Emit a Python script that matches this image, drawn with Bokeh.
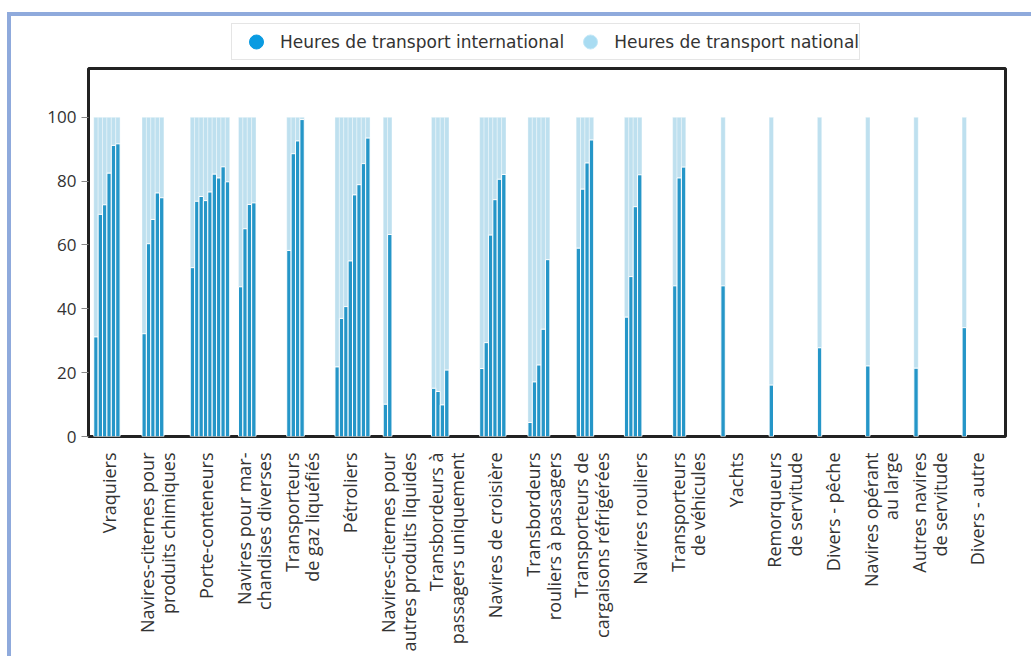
import math
from bokeh.plotting import figure
from bokeh.layouts import column
from bokeh.models import Range1d, FixedTicker, Legend, LegendItem, ColumnDataSource
from bokeh.embed import file_html
from bokeh.resources import INLINE

# ---- data -------------------------------------------------------------
categories = [
    "Vraquiers",
    "Navires-citernes pour\nproduits chimiques",
    "Porte-conteneurs",
    "Navires pour mar-\nchandises diverses",
    "Transporteurs\nde gaz liquéfiés",
    "Pétroliers",
    "Navires-citernes pour\nautres produits liquides",
    "Transbordeurs à\npassagers uniquement",
    "Navires de croisière",
    "Transbordeurs\nrouliers à passagers",
    "Transporteurs de\ncargaisons réfrigérées",
    "Navires rouliers",
    "Transporteurs\nde véhicules",
    "Yachts",
    "Remorqueurs\nde servitude",
    "Divers - pêche",
    "Navires opérant\nau large",
    "Autres navires\nde servitude",
    "Divers - autre",
]

# share (%) of international transport hours, one value per size class
intl_vraquiers = [31.2, 69.6, 72.6, 82.5, 91.2, 91.7]
intl_chimiques = [32.2, 60.4, 68.0, 76.3, 74.8]
intl_conteneurs = [52.9, 73.7, 75.2, 73.9, 76.6, 82.2, 81.0, 84.5, 79.8]
intl_marchandises = [46.9, 65.1, 72.7, 73.2]
intl_gaz = [58.3, 88.6, 92.6, 99.3]
intl_petroliers = [21.8, 37.0, 40.7, 55.0, 75.7, 78.9, 85.5, 93.5]
intl_citernes_autres = [10.1, 63.3]
intl_transbordeurs = [15.1, 14.1, 9.9, 20.8]
intl_croisiere = [21.3, 29.4, 63.1, 74.2, 80.6, 82.1]
intl_rouliers_passagers = [4.4, 17.1, 22.4, 33.6, 55.4]
intl_refrigerees = [59.0, 77.5, 85.7, 92.9]
intl_rouliers = [37.4, 50.1, 72.0, 82.0]
intl_vehicules = [47.2, 81.0, 84.4]
intl_yachts = [47.2]
intl_remorqueurs = [16.1]
intl_peche = [27.8]
intl_large = [22.1]
intl_servitude = [21.4]
intl_autre = [34.1]

intl_by_category = [
    intl_vraquiers, intl_chimiques, intl_conteneurs, intl_marchandises,
    intl_gaz, intl_petroliers, intl_citernes_autres, intl_transbordeurs,
    intl_croisiere, intl_rouliers_passagers, intl_refrigerees, intl_rouliers,
    intl_vehicules, intl_yachts, intl_remorqueurs, intl_peche, intl_large,
    intl_servitude, intl_autre,
]
total_pct = 100
y_ticks = [0, 20, 40, 60, 80, 100]
legend_labels = ["Heures de transport international", "Heures de transport national"]

# ---- layout constants ---------------------------------------------------
GROUP = 11  # slots per category (9 size classes + gap)
FRAME_W, FRAME_H = 917, 368
CANVAS_W = 1020

xs, tops = [], []
for i, vals in enumerate(intl_by_category):
    for j, v in enumerate(vals):
        xs.append(i * GROUP + j + 0.5)
        tops.append(v)
src = ColumnDataSource(dict(x=xs, intl=tops, total=[total_pct] * len(xs)))

# ---- legend strip (separate small figure above the chart) ---------------
leg = figure(width=CANVAS_W, height=48, x_range=Range1d(0, 1), y_range=Range1d(0, 1),
             output_backend="svg", toolbar_location=None,
             x_axis_location=None, y_axis_location=None,
             min_border_left=0, min_border_right=0, min_border_top=0, min_border_bottom=0)
leg.outline_line_color = None
leg.xgrid.grid_line_color = None
leg.ygrid.grid_line_color = None
r_int = leg.scatter(x=[-5], y=[-5], marker="circle", size=14,
                    fill_color="#0A9BE1", line_color="#0A9BE1")
r_nat = leg.scatter(x=[-5], y=[-5], marker="circle", size=14,
                    fill_color="#A9DCF2", line_color="#C4E8F7")
legend = Legend(items=[
    LegendItem(label=legend_labels[0], renderers=[r_int]),
    LegendItem(label=legend_labels[1], renderers=[r_nat]),
], orientation="horizontal", location=(143, 4),
    glyph_width=48, glyph_height=35, padding=0, spacing=2, label_standoff=0,
    label_text_font="DejaVu Sans", label_text_font_size="17px",
    label_text_color="#333333",
    border_line_color="#CCCCCC", border_line_width=1.5, margin=0)
leg.add_layout(legend, "center")

# ---- main chart ------------------------------------------------------------
p = figure(width=CANVAS_W, height=4 + FRAME_H + 220,
           x_range=Range1d(-1.2, 207.9), y_range=Range1d(0, 115.3),
           output_backend="svg", toolbar_location=None,
           min_border_left=77, min_border_right=26,
           min_border_top=4, min_border_bottom=220)

p.vbar(x="x", bottom="intl", top="total", width=1, source=src,
       fill_color="#BEE0EF", line_color="white", line_width=0.6, line_alpha=0.6)
p.vbar(x="x", bottom=0, top="intl", width=1, source=src,
       fill_color="#2596C8", line_color="white", line_width=1)

p.xgrid.grid_line_color = None
p.ygrid.grid_line_color = None
p.outline_line_color = "#222222"
p.outline_line_width = 3

p.yaxis.ticker = FixedTicker(ticks=y_ticks)
p.yaxis.minor_tick_line_color = None
p.yaxis.major_tick_in = 0
p.yaxis.major_tick_out = 7
p.yaxis.major_tick_line_color = "#888888"
p.yaxis.axis_line_color = None
p.yaxis.major_label_standoff = 5
p.yaxis.major_label_text_font = "Open Sans"
p.yaxis.major_label_text_font_size = "17px"
p.yaxis.major_label_text_color = "#333333"

tick_pos = [i * GROUP + 3.5 for i in range(len(categories))]
p.xaxis.ticker = FixedTicker(ticks=tick_pos)
p.xaxis.major_label_overrides = {t: c for t, c in zip(tick_pos, categories)}
p.xaxis.major_label_orientation = math.pi / 2
p.xaxis.minor_tick_line_color = None
p.xaxis.major_tick_line_color = None
p.xaxis.axis_line_color = None
p.xaxis.major_label_standoff = 10
p.xaxis.major_label_text_font = "Open Sans"
p.xaxis.major_label_text_font_size = "18px"
p.xaxis.major_label_text_line_height = 0.86
p.xaxis.major_label_text_color = "#333333"

layout = column(leg, p, spacing=0,
                styles={"margin-left": "7px", "margin-top": "12px",
                        "border-left": "4px solid #8FAADC",
                        "border-top": "4px solid #8FAADC"})

open("out.html", "w").write(file_html(layout, INLINE))
